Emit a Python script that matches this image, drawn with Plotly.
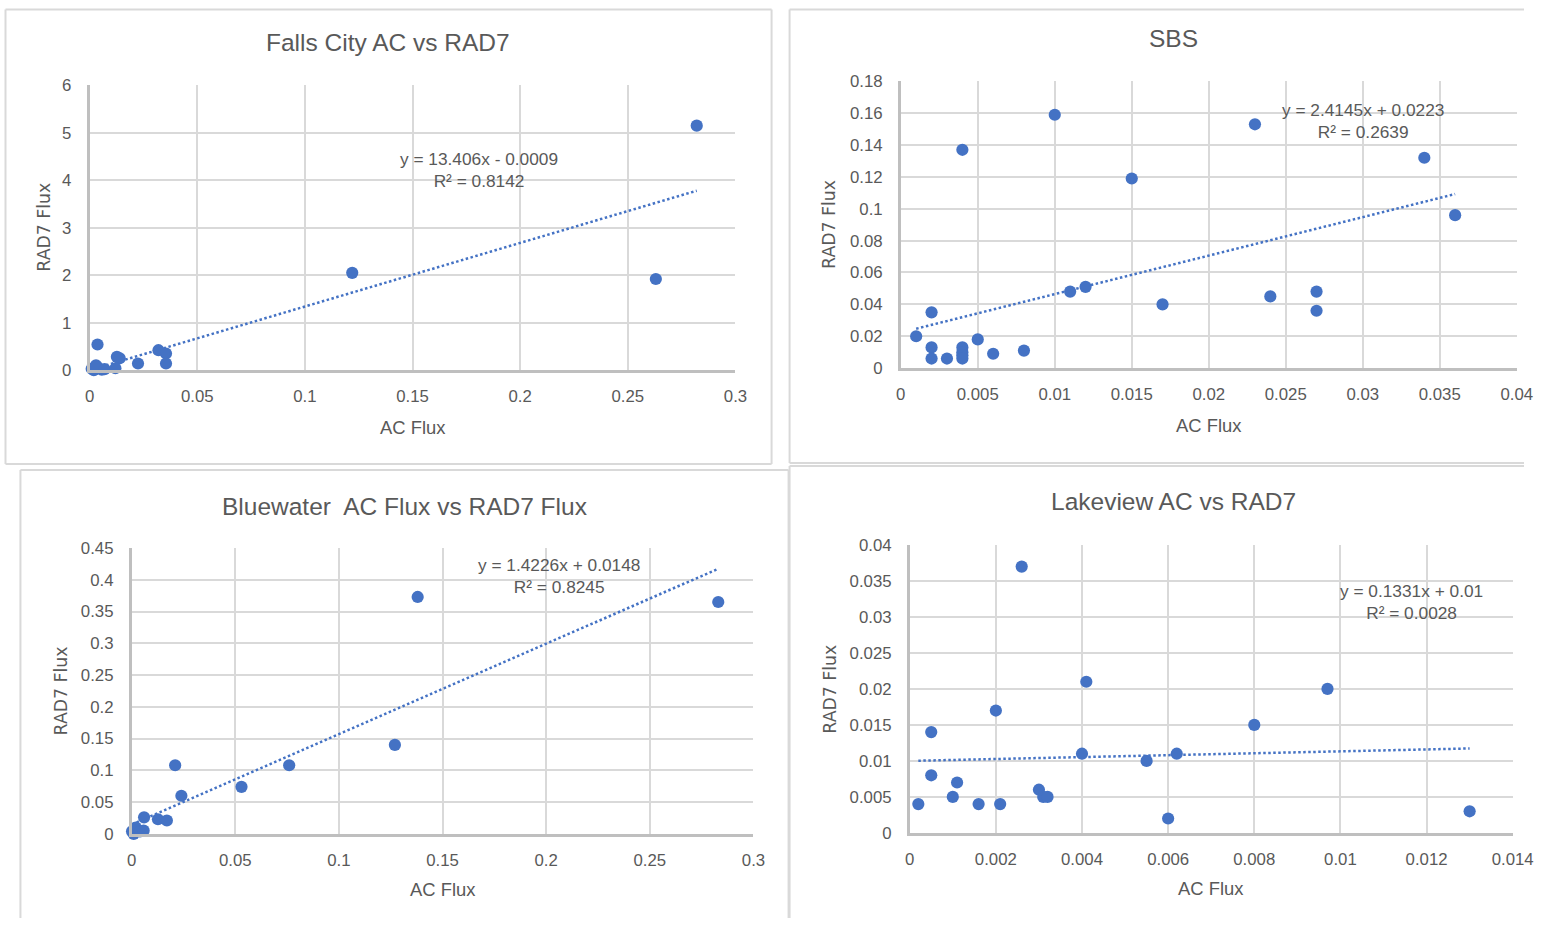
import plotly.graph_objects as go

W, H = 1545, 928

# ---- Falls City ----
falls_ac = [0.001, 0.0034, 0.0057, 0.002, 0.0037, 0.003, 0.007, 0.0127, 0.014, 0.012,
            0.0225, 0.032, 0.0355, 0.0355, 0.122, 0.263, 0.282]
falls_rad7 = [0.03, 0.07, 0.01, 0.0, 0.54, 0.10, 0.02, 0.28, 0.25, 0.04,
              0.14, 0.42, 0.35, 0.14, 2.05, 1.92, 5.15]
falls_slope, falls_intercept, falls_r2 = 13.406, -0.0009, 0.8142

# ---- SBS ----
sbs_ac = [0.001, 0.002, 0.002, 0.002, 0.003, 0.004, 0.004, 0.004, 0.004, 0.004,
          0.005, 0.006, 0.008, 0.010, 0.011, 0.012, 0.015, 0.017, 0.023, 0.024,
          0.027, 0.027, 0.034, 0.036]
sbs_rad7 = [0.020, 0.035, 0.013, 0.006, 0.006, 0.137, 0.013, 0.010, 0.008, 0.006,
            0.018, 0.009, 0.011, 0.159, 0.048, 0.051, 0.119, 0.040, 0.153, 0.045,
            0.048, 0.036, 0.132, 0.096]
sbs_slope, sbs_intercept, sbs_r2 = 2.4145, 0.0223, 0.2639

# ---- Bluewater ----
blue_ac = [0.0002, 0.001, 0.0026, 0.002, 0.004, 0.0058, 0.006, 0.0127, 0.017, 0.021,
           0.024, 0.053, 0.076, 0.127, 0.138, 0.283]
blue_rad7 = [0.004, 0.0, 0.006, 0.010, 0.004, 0.005, 0.026, 0.023, 0.021, 0.108,
             0.060, 0.074, 0.108, 0.140, 0.373, 0.365]
blue_slope, blue_intercept, blue_r2 = 1.4226, 0.0148, 0.8245

# ---- Lakeview ----
lake_ac = [0.0002, 0.0005, 0.0005, 0.001, 0.0011, 0.0016, 0.002, 0.0021, 0.0026, 0.003,
           0.0031, 0.0032, 0.004, 0.0041, 0.0055, 0.006, 0.0062, 0.008, 0.0097, 0.013]
lake_rad7 = [0.004, 0.014, 0.008, 0.005, 0.007, 0.004, 0.017, 0.004, 0.037, 0.006,
             0.005, 0.005, 0.011, 0.021, 0.010, 0.002, 0.011, 0.015, 0.020, 0.003]
lake_slope, lake_intercept, lake_r2 = 0.1331, 0.01, 0.0028

BLUE = "#4472C4"
TEXT = "#595959"
GRID = "#d9d9d9"
AXIS = "#bfbfbf"
FONT = "Liberation Sans, Arial, sans-serif"
AXIS_TITLE_FONT = "DejaVu Sans, Liberation Sans, sans-serif"


def px_x(p):
    return p / W


def px_y(p):
    return 1 - p / H


# pixel boxes (left, top, right, bottom) of each chart frame and its plot area;
# "sides" lists which frame edges are drawn (left, top, right, bottom)
panels = [
    dict(title="Falls City AC vs RAD7", x=falls_ac, y=falls_rad7,
         slope=falls_slope, b=falls_intercept, r2=falls_r2,
         xr=[0, 0.3], xd=0.05, yr=[0, 6], yd=1,
         plot=(86.0, 77.9, 743.0, 368.7), frame=(0.5, 0.5, 779.7, 464.6),
         sides="ltrb",
         title_px=(389.5, 34.0), eq_pos=(0.181, 4.21),
         xtitle_px=(414.0, 426.8), ytitle_px=(40.1, 222.8)),
    dict(title="SBS", x=sbs_ac, y=sbs_rad7,
         slope=sbs_slope, b=sbs_intercept, r2=sbs_r2,
         xr=[0, 0.04], xd=0.005, yr=[0, 0.18], yd=0.02,
         plot=(911.1, 73.8, 1537.6, 366.6), frame=(798.0, 0.5, 1545.0, 463.6),
         sides="ltb",
         title_px=(1188.2, 29.9), eq_pos=(0.0300, 0.155),
         xtitle_px=(1223.8, 424.8), ytitle_px=(838.8, 219.7)),
    dict(title="Bluewater  AC Flux vs RAD7 Flux", x=blue_ac, y=blue_rad7,
         slope=blue_slope, b=blue_intercept, r2=blue_r2,
         xr=[0, 0.3], xd=0.05, yr=[0, 0.45], yd=0.05,
         plot=(128.8, 550.3, 761.3, 842.1), frame=(15.7, 470.7, 797.0, 928.0),
         sides="ltr",
         title_px=(406.8, 507.4), eq_pos=(0.2063, 0.406),
         xtitle_px=(444.5, 899.3), ytitle_px=(56.4, 696.2)),
    dict(title="Lakeview AC vs RAD7", x=lake_ac, y=lake_rad7,
         slope=lake_slope, b=lake_intercept, r2=lake_r2,
         xr=[0, 0.014], xd=0.002, yr=[0, 0.04], yd=0.005,
         plot=(920.2, 547.2, 1533.5, 841.1), frame=(798.0, 466.6, 1545.0, 928.0),
         sides="lt",
         title_px=(1188.2, 502.4), eq_pos=(0.01165, 0.0321),
         xtitle_px=(1225.8, 898.3), ytitle_px=(838.8, 694.2)),
]

fig = go.Figure()
shapes = []
annotations = []

for i, p in enumerate(panels, start=1):
    xa = "x" if i == 1 else f"x{i}"
    ya = "y" if i == 1 else f"y{i}"

    # chart frame edges
    fx0, fy0, fx1, fy1 = p["frame"]
    edges = {
        "l": (fx0, fy0, fx0, fy1),
        "t": (fx0, fy0, fx1, fy0),
        "r": (fx1, fy0, fx1, fy1),
        "b": (fx0, fy1, fx1, fy1),
    }
    for side in p["sides"]:
        ex0, ey0, ex1, ey1 = edges[side]
        shapes.append(dict(type="line", xref="paper", yref="paper",
                           x0=px_x(ex0), x1=px_x(ex1), y0=px_y(ey0), y1=px_y(ey1),
                           line=dict(color=GRID, width=2), layer="below"))

    # linear trendline between the smallest and largest AC flux
    x_lo, x_hi = min(p["x"]), max(p["x"])
    fig.add_trace(go.Scatter(
        x=[x_lo, x_hi], y=[p["slope"] * x_lo + p["b"], p["slope"] * x_hi + p["b"]],
        mode="lines", line=dict(color=BLUE, width=2.5, dash="2.5px,2.5px"),
        xaxis=xa, yaxis=ya, showlegend=False, hoverinfo="skip", cliponaxis=False))

    fig.add_trace(go.Scatter(
        x=p["x"], y=p["y"], mode="markers",
        marker=dict(color=BLUE, size=12.2, line=dict(width=0)),
        xaxis=xa, yaxis=ya, showlegend=False, cliponaxis=False))

    x0, y0, x1, y1 = p["plot"]
    common = dict(showgrid=True, gridcolor=GRID, gridwidth=1.5,
                  zeroline=False, ticks="", showline=True, linecolor=AXIS,
                  linewidth=2.5, tickfont=dict(family=FONT, size=16.8, color=TEXT))
    xkey = "xaxis" if i == 1 else f"xaxis{i}"
    ykey = "yaxis" if i == 1 else f"yaxis{i}"
    fig.update_layout(**{
        xkey: dict(domain=[px_x(x0), px_x(x1)], range=p["xr"], dtick=p["xd"], tick0=0,
                   anchor=ya, ticklabelstandoff=9, **common),
        ykey: dict(domain=[px_y(y1), px_y(y0)], range=p["yr"], dtick=p["yd"], tick0=0,
                   anchor=xa, ticklabelstandoff=12, **common),
    })

    # chart title
    tx, ty = p["title_px"]
    annotations.append(dict(text=p["title"], x=px_x(tx), y=px_y(ty), xref="paper",
                            yref="paper", showarrow=False, xanchor="center",
                            yanchor="middle", font=dict(family=FONT, size=24.5, color=TEXT)))
    # axis titles
    ax_, ay_ = p["xtitle_px"]
    annotations.append(dict(text="AC Flux", x=px_x(ax_), y=px_y(ay_), xref="paper",
                            yref="paper", showarrow=False, xanchor="center",
                            yanchor="middle", font=dict(family=FONT, size=18.4, color=TEXT)))
    bx_, by_ = p["ytitle_px"]
    annotations.append(dict(text="RAD7 Flux", x=px_x(bx_), y=px_y(by_), xref="paper",
                            yref="paper", showarrow=False, xanchor="center",
                            yanchor="middle", textangle=-90,
                            font=dict(family=AXIS_TITLE_FONT, size=17.3, color=TEXT)))
    # trendline equation
    sign = "+" if p["b"] >= 0 else "-"
    eq = f"y = {p['slope']}x {sign} {abs(p['b'])}<br>R² = {p['r2']}"
    ex, ey = p["eq_pos"]
    annotations.append(dict(text=eq, x=ex, y=ey, xref=xa, yref=ya, showarrow=False,
                            xanchor="center", yanchor="middle", align="center",
                            font=dict(family=FONT, size=17.3, color=TEXT)))

fig.update_layout(width=W, height=H, margin=dict(l=0, r=0, t=0, b=0),
                  paper_bgcolor="white", plot_bgcolor="white",
                  shapes=shapes, annotations=annotations, showlegend=False)

fig.write_html("out.html",
               post_script="document.body.style.margin='0';"
                           "document.documentElement.style.overflow='hidden';"
                           "document.body.style.overflow='hidden';")
